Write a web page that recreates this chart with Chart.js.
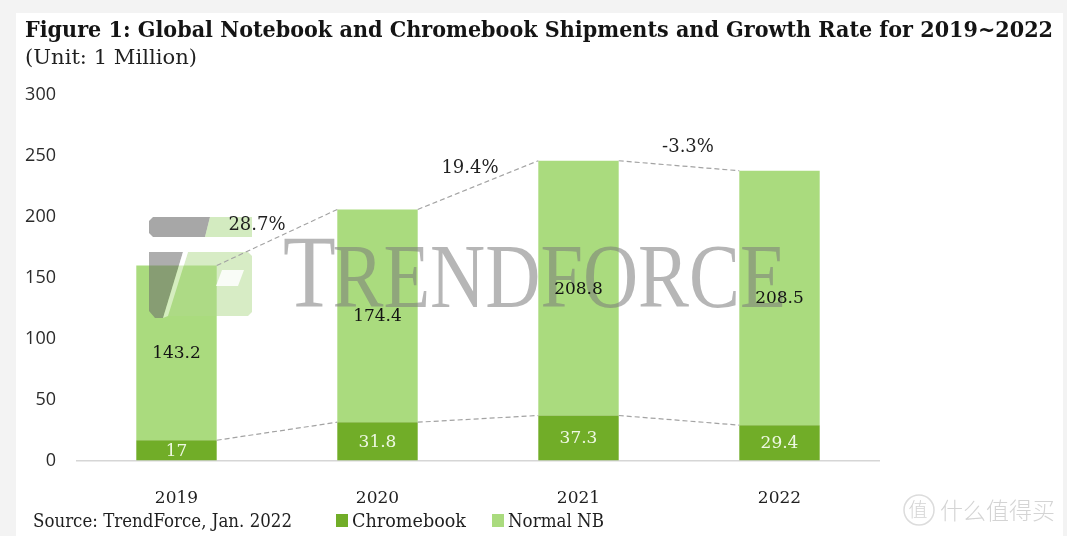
<!DOCTYPE html>
<html>
<head>
<meta charset="utf-8">
<script src="https://cdn.jsdelivr.net/npm/chart.js@4"></script>
<style>
  html, body { margin: 0; padding: 0; background: #fff; }
  canvas { display: block; }
</style>
</head>
<body>
<canvas id="js-shipments-chart" width="1067" height="536"></canvas>
<script>
const years = ['2019', '2020', '2021', '2022'];
const chromebook = [17, 31.8, 37.3, 29.4];
const normalNB = [143.2, 174.4, 208.8, 208.5];
const growthRates = ['28.7%', '19.4%', '-3.3%'];
const yTickValues = [0, 50, 100, 150, 200, 250, 300];

const titleText = 'Figure 1: Global Notebook and Chromebook Shipments and Growth Rate for 2019~2022';
const subtitleText = '(Unit: 1 Million)';
const sourceText = 'Source: TrendForce, Jan. 2022';

const darkGreen = '#71ad28';
const lightGreen = '#aadb7e';
const serif = '"DejaVu Serif", serif';

const shipmentsCanvas = document.querySelector('#js-shipments-chart');

// draw text squeezed/stretched to a given width
function fitText(ctx, text, x, y, width, font, color) {
  ctx.save();
  ctx.font = font;
  ctx.fillStyle = color;
  ctx.textAlign = 'left';
  ctx.textBaseline = 'alphabetic';
  const w = ctx.measureText(text).width;
  ctx.translate(x, y);
  ctx.scale(width / w, 1);
  ctx.fillText(text, 0, 0);
  ctx.restore();
}

function poly(ctx, pts, color) {
  ctx.beginPath();
  ctx.moveTo(pts[0][0], pts[0][1]);
  for (const p of pts.slice(1)) ctx.lineTo(p[0], p[1]);
  ctx.closePath();
  ctx.fillStyle = color;
  ctx.fill();
}

const backgroundPlugin = {
  id: 'background',
  beforeDraw(chart) {
    const ctx = chart.ctx;
    ctx.save();
    ctx.fillStyle = '#f3f3f3';
    ctx.fillRect(0, 0, chart.width, chart.height);
    ctx.fillStyle = '#ffffff';
    ctx.fillRect(16, 13, chart.width - 20, chart.height - 13);
    ctx.restore();

    fitText(ctx, titleText, 25, 37, 1028, 'bold 23px ' + serif, '#141414');
    fitText(ctx, subtitleText, 25, 64, 172, '20px ' + serif, '#1f1f1f');

    // source + legend
    fitText(ctx, sourceText, 33, 527, 259, '18px ' + serif, '#1f1f1f');
    const sets = chart.data.datasets;
    const legendX = [336, 492];
    const legendW = [114, 96];
    sets.forEach((ds, i) => {
      ctx.fillStyle = ds.backgroundColor;
      ctx.fillRect(legendX[i], 514, 12, 13);
      fitText(ctx, ds.label, legendX[i] + 16, 527, legendW[i], '18px ' + serif, '#1f1f1f');
    });

    // site watermark
    ctx.save();
    ctx.strokeStyle = '#dcdcdc';
    ctx.lineWidth = 1.5;
    ctx.beginPath();
    ctx.arc(919, 510, 15, 0, Math.PI * 2);
    ctx.stroke();
    ctx.fillStyle = '#d4d4d4';
    ctx.font = '300 19px "Noto Sans CJK SC"';
    ctx.textAlign = 'center';
    ctx.textBaseline = 'middle';
    ctx.fillText('值', 918, 510);
    ctx.textAlign = 'left';
    ctx.font = '300 23px "Noto Sans CJK SC"';
    ctx.fillText('什么值得买', 940, 510);
    ctx.restore();
  }
};

const overlayPlugin = {
  id: 'overlay',
  afterDatasetsDraw(chart) {
    const ctx = chart.ctx;
    const bottom = chart.getDatasetMeta(0).data;
    const top = chart.getDatasetMeta(1).data;

    // TrendForce watermark
    ctx.save();
    ctx.globalAlpha = 0.55;
    ctx.fillStyle = '#7a7a7a';
    ctx.textBaseline = 'alphabetic';
    ctx.font = '104px "Liberation Serif"';
    const tW = ctx.measureText('T').width;
    ctx.font = '92px "Liberation Serif"';
    const restW = ctx.measureText('RENDFORCE').width;
    const sx = 507 / (tW + restW);
    ctx.translate(283, 307);
    ctx.scale(sx, 1);
    ctx.font = '104px "Liberation Serif"';
    ctx.fillText('T', 0, 0);
    ctx.font = '92px "Liberation Serif"';
    ctx.fillText('RENDFORCE', tW - 4, 0);
    ctx.restore();

    // TrendForce logo mark
    ctx.save();
    poly(ctx, [[153, 217], [210, 217], [205, 237], [153, 237], [149, 233], [149, 221]], 'rgba(120,120,120,0.65)');
    poly(ctx, [[210, 217], [252, 217], [252, 237], [205, 237]], 'rgba(175,218,140,0.55)');
    poly(ctx, [[149, 252], [183, 252], [163, 318], [155, 318], [149, 311]], 'rgba(105,105,105,0.55)');
    poly(ctx, [[188, 252], [248, 252], [252, 256], [252, 312], [248, 316], [168, 316]], 'rgba(175,218,140,0.5)');
    poly(ctx, [[222, 270], [244, 270], [238, 286], [216, 286]], 'rgba(255,255,255,0.85)');
    poly(ctx, [[183, 252], [188, 252], [168, 316], [163, 318]], 'rgba(255,255,255,0.5)');
    ctx.restore();

    // dashed growth connectors
    ctx.save();
    ctx.strokeStyle = '#a3a3a3';
    ctx.lineWidth = 1.2;
    ctx.setLineDash([5, 3]);
    for (let i = 0; i < years.length - 1; i++) {
      for (const bars of [bottom, top]) {
        const a = bars[i];
        const b = bars[i + 1];
        ctx.beginPath();
        ctx.moveTo(a.x + a.width / 2, a.y);
        ctx.lineTo(b.x - b.width / 2, b.y);
        ctx.stroke();
      }
    }
    ctx.restore();

    // value labels
    ctx.save();
    ctx.textAlign = 'center';
    ctx.textBaseline = 'middle';
    ctx.font = '17px ' + serif;
    bottom.forEach((bar, i) => {
      ctx.fillStyle = '#eef8e2';
      ctx.fillText(String(chromebook[i]), bar.x, (bar.y + bar.base) / 2 + 1);
    });
    top.forEach((bar, i) => {
      ctx.fillStyle = '#141414';
      ctx.fillText(String(normalNB[i]), bar.x, (bar.y + bar.base) / 2 + 1);
    });

    // growth rate labels, nudged off the connector midpoints
    const nudge = [[-20, -12], [-8, -17], [9, -18]];
    ctx.fillStyle = '#1f1f1f';
    ctx.font = '18px ' + serif;
    growthRates.forEach((rate, i) => {
      const a = top[i];
      const b = top[i + 1];
      const mx = (a.x + a.width / 2 + b.x - b.width / 2) / 2;
      const my = (a.y + b.y) / 2;
      ctx.fillText(rate, mx + nudge[i][0], my + nudge[i][1]);
    });
    ctx.restore();
  }
};

const shipmentsData = {
  labels: years,
  datasets: [{
    label: 'Chromebook',
    data: chromebook,
    backgroundColor: darkGreen,
  }, {
    label: 'Normal NB',
    data: normalNB,
    backgroundColor: lightGreen,
  }]
};

const shipmentsConfig = {
  type: 'bar',
  data: shipmentsData,
  options: {
    responsive: false,
    animation: false,
    devicePixelRatio: 1,
    events: [],
    layout: {
      padding: { left: 16, right: 187, top: 95, bottom: 0 }
    },
    datasets: {
      bar: { categoryPercentage: 1, barPercentage: 0.4 }
    },
    scales: {
      x: {
        stacked: true,
        grid: { display: false },
        border: { display: false },
        ticks: {
          padding: 19,
          color: '#1f1f1f',
          font: { family: 'DejaVu Serif', size: 17 }
        },
        afterFit(scale) {
          scale.height = 75;
        }
      },
      y: {
        stacked: true,
        min: 0,
        max: 300,
        afterBuildTicks(scale) {
          scale.ticks = yTickValues.map(v => ({ value: v }));
        },
        ticks: {
          padding: 20,
          color: '#2b2b2b',
          font: { family: 'Open Sans', size: 18 }
        },
        grid: {
          drawTicks: false,
          lineWidth: 1.5,
          color: (c) => c.tick && c.tick.value === 0 ? '#d6d6d6' : 'transparent'
        },
        border: { display: false },
        afterFit(scale) {
          scale.width = 60;
        }
      }
    },
    plugins: {
      legend: { display: false },
      tooltip: { enabled: false }
    }
  },
  plugins: [backgroundPlugin, overlayPlugin]
};

new Chart(shipmentsCanvas, shipmentsConfig);
</script>
</body>
</html>
